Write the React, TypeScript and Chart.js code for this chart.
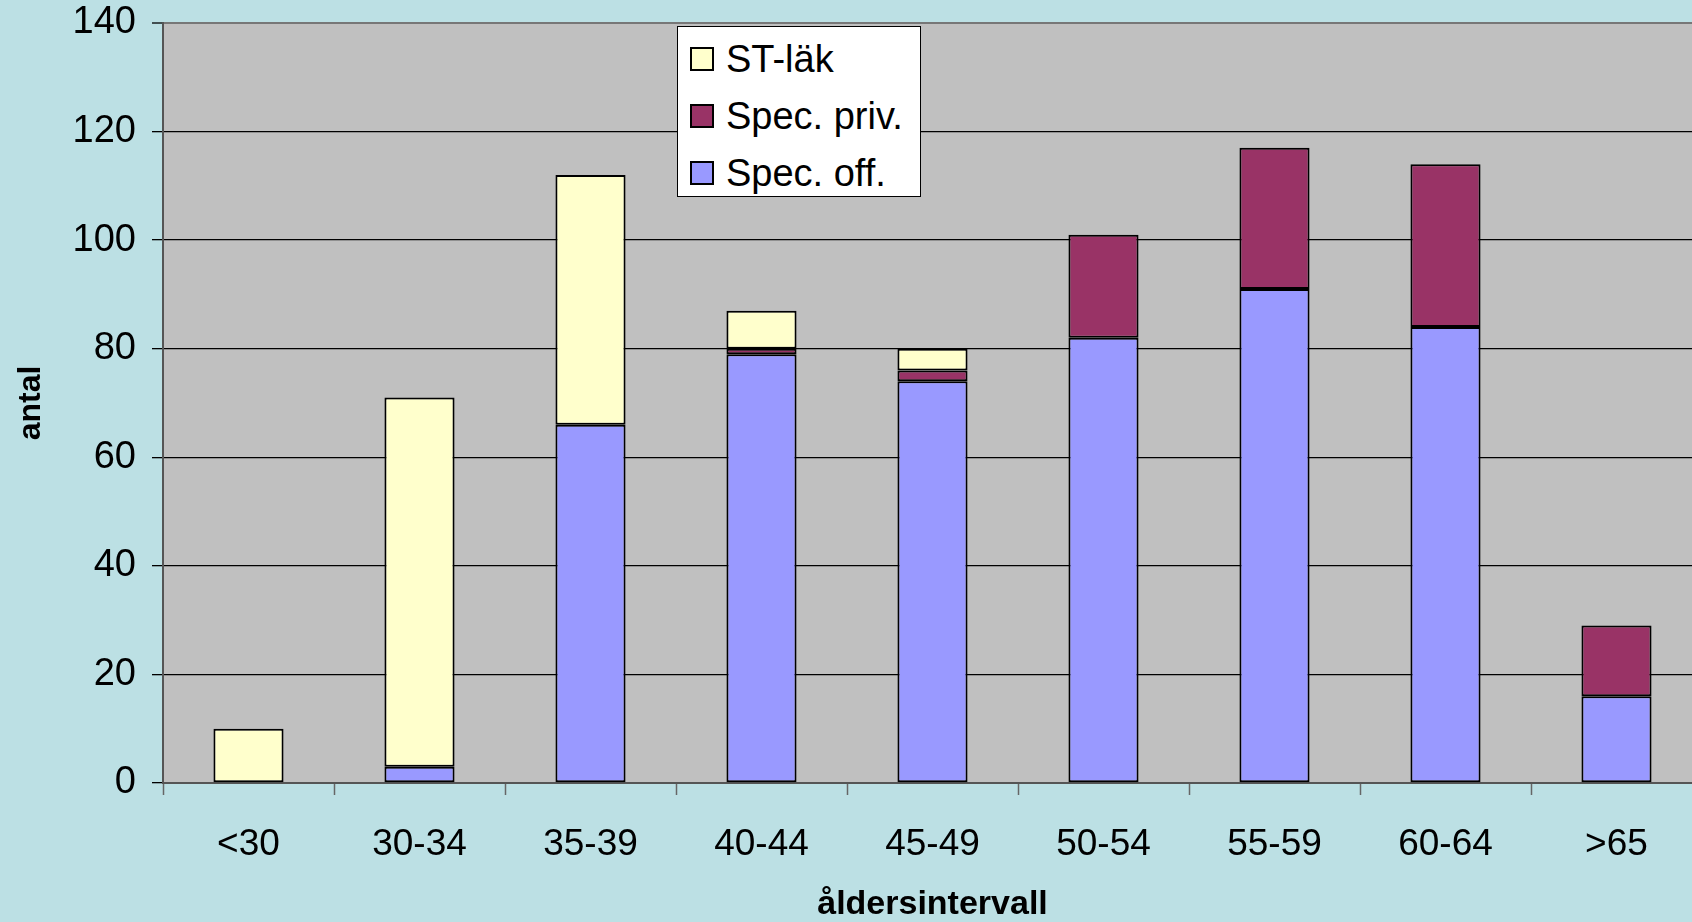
import React, { useEffect, useRef } from 'react';
import { Chart, registerables } from 'chart.js';
import type { Chart as ChartJS, Plugin } from 'chart.js';

Chart.register(...registerables);

// age groups (x axis)
const ageGroups = ['<30', '30-34', '35-39', '40-44', '45-49', '50-54', '55-59', '60-64', '>65'];

// stacked series, bottom to top
const specOff = [0, 3, 66, 79, 74, 82, 91, 84, 16];
const specPriv = [0, 0, 0, 1, 2, 19, 26, 30, 13];
const stLak = [10, 68, 46, 7, 4, 0, 0, 0, 0];

const yMin = 0;
const yMax = 140;
const yStep = 20;

const seriesLabels = ['Spec. off.', 'Spec. priv.', 'ST-läk'];
const seriesColors = ['#9999FF', '#993366', '#FFFFCC'];

const FONT = '"Liberation Sans", Arial, sans-serif';
const PAGE_BG = '#BCE0E4';
const PLOT_BG = '#C0C0C0';

const CANVAS_W = 1706;
const CANVAS_H = 922;
const AREA_LEFT = 163;
const AREA_TOP = 23;
const AREA_BOTTOM = 783;

const backgroundPlugin: Plugin<'bar'> = {
  id: 'plotBackground',
  beforeDraw(chart) {
    const { ctx, chartArea } = chart;
    ctx.save();
    ctx.fillStyle = PAGE_BG;
    ctx.fillRect(0, 0, chart.width, chart.height);
    ctx.fillStyle = PLOT_BG;
    ctx.fillRect(chartArea.left, chartArea.top, chartArea.right - chartArea.left, chartArea.bottom - chartArea.top);
    ctx.restore();
  },
};

const App: React.FC = () => {
  const canvasRef = useRef<HTMLCanvasElement>(null);
  const chartRef = useRef<ChartJS | null>(null);

  useEffect(() => {
    if (!canvasRef.current) return;
    const data = [specOff, specPriv, stLak];

    chartRef.current = new Chart(canvasRef.current, {
      type: 'bar',
      data: {
        labels: ageGroups,
        datasets: data.map((d, i) => ({
          label: seriesLabels[i],
          data: d,
          backgroundColor: seriesColors[i],
          borderColor: '#000',
          // empty segments get no outline
          borderWidth: (c: any) => (c.raw ? 2 : 0),
          borderSkipped: false,
          barPercentage: 0.41,
          categoryPercentage: 1,
        })),
      },
      options: {
        responsive: false,
        animation: false,
        devicePixelRatio: 1,
        layout: { padding: { top: AREA_TOP, left: 0, right: 4, bottom: 0 } },
        plugins: {
          legend: { display: false },
          tooltip: { enabled: false },
        },
        scales: {
          x: {
            stacked: true,
            offset: true,
            afterFit: (scale: any) => {
              scale.height = CANVAS_H - AREA_BOTTOM;
              scale.paddingLeft = 0;
              scale.paddingRight = 0;
            },
            grid: {
              offset: true,
              drawOnChartArea: false,
              drawTicks: true,
              tickLength: 12,
              tickColor: '#666',
              tickWidth: 1.5,
            },
            border: { display: true, color: '#555', width: 2 },
            ticks: {
              color: '#000',
              font: { family: FONT, size: 37 },
              padding: 28,
              maxRotation: 0,
              autoSkip: false,
            },
            title: {
              display: true,
              text: 'åldersintervall',
              color: '#000',
              font: { family: FONT, size: 34, weight: 'bold', lineHeight: 1 },
              padding: { top: 0, bottom: 0 },
            },
          },
          y: {
            stacked: true,
            min: yMin,
            max: yMax,
            afterFit: (scale: any) => {
              scale.width = AREA_LEFT;
              scale.paddingTop = 0;
              scale.paddingBottom = 0;
            },
            grid: {
              color: (c: any) => (c.tick && (c.tick.value === yMax || c.tick.value === yMin) ? '#777' : '#000'),
              lineWidth: (c: any) => (c.tick && c.tick.value === yMax ? 2 : 1.3),
              tickLength: 11,
              tickColor: '#000',
              tickWidth: 1.3,
            },
            border: { display: true, color: '#555', width: 2 },
            ticks: {
              stepSize: yStep,
              color: '#000',
              font: { family: FONT, size: 38 },
              padding: 16,
            },
            title: {
              display: true,
              text: 'antal',
              color: '#000',
              font: { family: FONT, size: 32, weight: 'bold', lineHeight: 1.2 },
              padding: { top: 12, bottom: 0 },
            },
          },
        },
      },
      plugins: [backgroundPlugin],
    });

    return () => {
      chartRef.current?.destroy();
      chartRef.current = null;
    };
  }, []);

  // legend lists the top segment first
  const legendOrder = [2, 1, 0];

  return (
    <div style={{ position: 'fixed', left: 0, top: 0, width: 1692, height: CANVAS_H, overflow: 'hidden', background: PAGE_BG }}>
      <canvas ref={canvasRef} width={CANVAS_W} height={CANVAS_H} style={{ display: 'block', width: CANVAS_W, height: CANVAS_H }} />
      <div
        style={{
          position: 'absolute',
          left: 677,
          top: 26,
          width: 242,
          height: 169,
          background: '#fff',
          border: '1px solid #000',
          fontFamily: FONT,
          fontSize: 38,
          color: '#000',
        }}
      >
        {legendOrder.map((idx, row) => (
          <div
            key={seriesLabels[idx]}
            style={{ position: 'absolute', left: 12, top: 10 + row * 57, height: 44, display: 'flex', alignItems: 'center', whiteSpace: 'nowrap' }}
          >
            <span
              style={{
                display: 'inline-block',
                width: 24,
                height: 24,
                background: seriesColors[idx],
                border: '2px solid #000',
                boxSizing: 'border-box',
                marginRight: 12,
              }}
            />
            <span>{seriesLabels[idx]}</span>
          </div>
        ))}
      </div>
    </div>
  );
};

export default App;
